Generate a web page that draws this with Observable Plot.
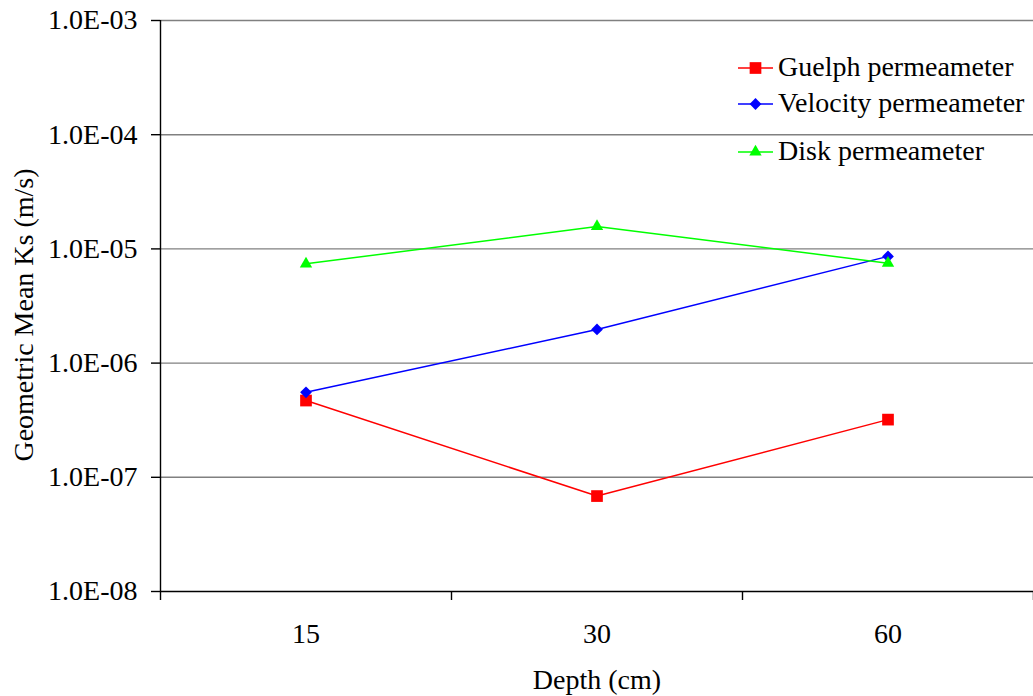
<!DOCTYPE html>
<html>
<head>
<meta charset="utf-8">
<script src="https://cdn.jsdelivr.net/npm/d3@7"></script>
<script src="https://cdn.jsdelivr.net/npm/@observablehq/plot@0.6"></script>
<style>
  body { margin: 0; background: #fff; }
  #wrap { position: relative; width: 1033px; height: 696px; font-family: "Liberation Serif", "Times New Roman", serif; }
  #legend { position: absolute; left: 0; top: 0; pointer-events: none; }
</style>
</head>
<body>
<div id="wrap"></div>
<script>
const depths = ["15", "30", "60"];
const guelph = [4.7e-7, 6.85e-8, 3.2e-7];
const velocity = [5.55e-7, 1.97e-6, 8.6e-6];
const disk = [7.4e-6, 1.57e-5, 7.5e-6];
const seriesNames = ["Guelph permeameter", "Velocity permeameter", "Disk permeameter"];
const seriesValues = [guelph, velocity, disk];
const colors = ["#ff0000", "#0000ff", "#00ff00"];
const symbols = ["square", "diamond2", "triangle"];
const symbolR = [6.6, 5.3, 4.6];
const yTicks = [1e-8, 1e-7, 1e-6, 1e-5, 1e-4, 1e-3];
const yTickLabels = ["1.0E-08", "1.0E-07", "1.0E-06", "1.0E-05", "1.0E-04", "1.0E-03"];
const xTitle = "Depth (cm)";
const yTitle = "Geometric Mean Ks (m/s)";
const FS = 28;
const FONT = "'Liberation Serif', 'Times New Roman', serif";

const rows = seriesNames.map((s, k) => seriesValues[k].map((v, i) => ({series: s, k, i, pos: i + 0.5, value: v})));
const boundaries = d3.range(depths.length + 1);
const centers = depths.map((d, i) => i + 0.5);

const marks = [
  Plot.ruleY(yTicks.slice(1), {stroke: "#808080", strokeWidth: 1.4}),
  Plot.ruleY([yTicks[0]], {stroke: "#000", strokeWidth: 1.4}),
  Plot.ruleX([0], {stroke: "#000", strokeWidth: 1.4}),
  Plot.axisY({ticks: yTicks, tickFormat: (d) => yTickLabels[yTicks.indexOf(d)], tickSize: 9, tickPadding: 14, fontSize: FS, strokeWidth: 1.4, label: null}),
  Plot.axisX({ticks: boundaries, tickFormat: () => "", tickSize: 9, strokeWidth: 1.4, label: null}),
  Plot.axisX({ticks: centers, tickFormat: d => depths[Math.floor(d)], tickSize: 0, tickPadding: 32, fontSize: FS, label: null}),
  Plot.text([xTitle], {frameAnchor: "bottom", dy: 89, fontSize: FS, lineAnchor: "middle", textAnchor: "middle"}),
  Plot.text([yTitle], {frameAnchor: "left", dx: -136, dy: 9, rotate: -90, fontSize: FS, lineAnchor: "middle", textAnchor: "middle"})
];
rows.forEach((r, k) => {
  marks.push(Plot.line(r, {x: "pos", y: "value", stroke: colors[k], strokeWidth: 1.5}));
  marks.push(Plot.dot(r, {x: "pos", y: "value", fill: colors[k], stroke: "none", symbol: symbols[k], r: symbolR[k]}));
});

const chart = Plot.plot({
  width: 1033,
  height: 696,
  marginLeft: 160,
  marginRight: 0,
  marginTop: 20,
  marginBottom: 105,
  style: {fontFamily: FONT, color: "#000", background: "#fff", overflow: "visible"},
  x: {type: "linear", domain: [0, depths.length], axis: null},
  y: {type: "log", domain: [yTicks[0], yTicks[yTicks.length - 1]], axis: null},
  marks
});
document.getElementById("wrap").appendChild(chart);

// Legend overlaid inside the plot area
const legendY = [68, 104, 152];
const svg = d3.select("#wrap").append("svg").attr("id", "legend").attr("width", 1033).attr("height", 696);
const d3sym = {square: d3.symbolSquare, diamond2: d3.symbolDiamond2, triangle: d3.symbolTriangle};
seriesNames.forEach((s, k) => {
  const g = svg.append("g").attr("transform", `translate(0,${legendY[k]})`);
  g.append("line").attr("x1", 738).attr("x2", 773).attr("y1", 0).attr("y2", 0).attr("stroke", colors[k]).attr("stroke-width", 1.5);
  g.append("path").attr("transform", "translate(755.5,0)").attr("d", d3.symbol(d3sym[symbols[k]], Math.PI * symbolR[k] * symbolR[k])()).attr("fill", colors[k]);
  g.append("text").attr("x", 778).attr("y", 0).attr("dy", "0.3em").attr("font-size", FS).attr("font-family", FONT).attr("fill", "#000").text(s);
});
</script>
</body>
</html>
